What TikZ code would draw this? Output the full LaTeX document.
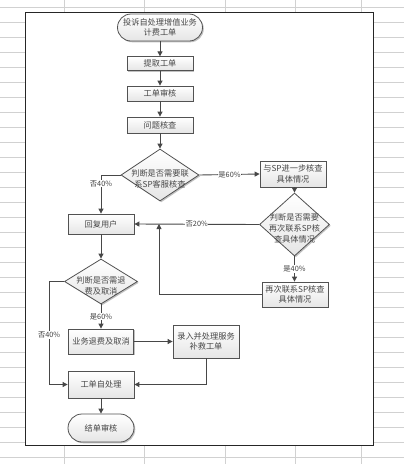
\documentclass[tikz,border=0pt]{standalone}
\usepackage{fontspec}
\setmainfont{Noto Sans CJK SC}
\usetikzlibrary{arrows.meta,shapes.geometric,shadows}
\begin{document}
\begin{tikzpicture}[x=1pt,y=-1pt,
  grid/.style={draw=black!18, line width=0.8pt},
  frame/.style={draw=black!85, line width=1pt, fill=white},
  base/.style={draw=black!68, line width=0.8pt, top color=white, bottom color=black!10,
    drop shadow={shadow xshift=1.3pt, shadow yshift=-1.3pt, fill=black!40, opacity=0.6},
    inner sep=0pt, text=black!72, align=center, font=\fontsize{8.2}{10.7}\selectfont},
  box/.style={base, rectangle},
  term/.style={base, rectangle, rounded corners=13.5pt},
  dia/.style={base, diamond},
  dtext/.style={inner sep=0pt, text=black!72, align=center, font=\fontsize{8.2}{11}\selectfont},
  line/.style={draw=black!72, line width=0.9pt},
  arr/.style={line, -{Triangle[length=5pt,width=5pt]}},
  lab/.style={fill=white, inner sep=0.6pt, text=black!75, font=\fontsize{7.3}{8}\selectfont}
]
\useasboundingbox (0,0) rectangle (404,464);
% spreadsheet grid
\foreach \k in {0,...,30} {\draw[grid] (0,7.3+15*\k) -- (404,7.3+15*\k);}
\foreach \x in {64.5,144.3,225.7,295,361.7} {\draw[grid] (\x,0) -- (\x,464);}
% frame
\draw[frame] (25.5,12.3) rectangle (373.3,445);

% nodes
\node[term, minimum width=85pt, minimum height=27pt] (start) at (160,27.5) {投诉自处理增值业务\\计费工单};
\node[box, minimum width=66pt, minimum height=13.5pt] (p1) at (160,63.5) {提取工单};
\node[box, minimum width=66pt, minimum height=15pt] (p2) at (160,93.5) {工单审核};
\node[box, minimum width=66pt, minimum height=16pt] (p3) at (160,125) {问题核查};
\node[dia, minimum width=78pt, minimum height=52pt] (d1) at (160,175) {};
\node[dtext] (d1t) at (160,178.5) {判断是否需要联\\系SP客服核查};
\node[box, minimum width=66pt, minimum height=26pt] (s1) at (293,174) {与SP进一步核查\\具体情况};
\node[dia, minimum width=70pt, minimum height=63pt] (d2) at (294.5,224.5) {};
\node[dtext] (d2t) at (294.5,228) {判断是否需要\\再次联系SP核\\查具体情况};
\node[box, minimum width=66pt, minimum height=25pt] (s2) at (295,294.5) {再次联系SP核查\\具体情况};
\node[box, minimum width=66pt, minimum height=20pt] (r1) at (101,224) {回复用户};
\node[dia, minimum width=73pt, minimum height=45pt] (d3) at (101,281.5) {};
\node[dtext] (d3t) at (101,286) {判断是否需退\\费及取消};
\node[box, minimum width=65pt, minimum height=25pt] (b1) at (101,341.5) {业务退费及取消};
\node[box, minimum width=66pt, minimum height=33pt] (b2) at (206,341.5) {录入并处理服务\\补救工单};
\node[box, minimum width=66pt, minimum height=27pt] (b3) at (101,384.5) {工单自处理};
\node[term, minimum width=66pt, minimum height=28pt, rounded corners=14pt] (end) at (101,428) {结单审核};
\coordinate (c1) at (159,224);

% connectors
\draw[arr] (start) -- (p1);
\draw[arr] (p1) -- (p2);
\draw[arr] (p2) -- (p3);
\draw[arr] (p3) -- (d1);
\draw[arr] (d1.west) -| node[lab, pos=0.61] {否40\%} (r1.north);
\draw[arr] (d1.east) -- node[lab] {是60\%} (s1.west);
\draw[arr] (s1.south -| d2.north) -- (d2.north);
\draw[arr] (d2.west) -- node[lab] {否20\%} (r1.east);
\draw[arr] (d2.south) -- node[lab] {是40\%} (s2.north -| d2.south);
\draw[arr] (s2.west) -| (c1);
\draw[arr] (r1) -- (d3);
\draw[arr] (d3.south) -- node[lab] {是60\%} (b1.north);
\draw[arr] (d3.west) -- ++(-15,0) |- node[lab, pos=0.26] {否40\%} (b3.west);
\draw[arr] (b1) -- (b2);
\draw[arr] (b2.south) |- (b3.east);
\draw[arr] (b3) -- (end);
\end{tikzpicture}
\end{document}
